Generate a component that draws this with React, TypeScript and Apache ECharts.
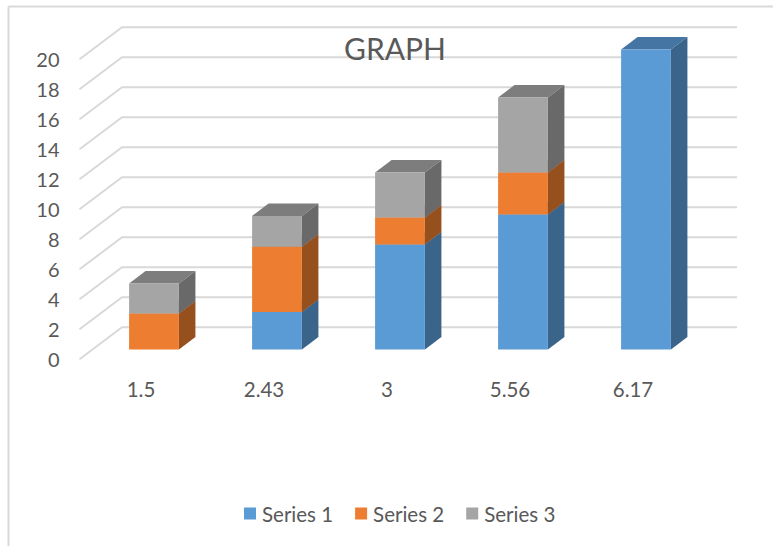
import React, { useEffect, useRef } from "react";
import * as echarts from "echarts";

const categories = ["1.5", "2.43", "3", "5.56", "6.17"];
const series1 = [0, 2.5, 7, 9, 20];
const series2 = [2.4, 4.35, 1.8, 2.8, 0];
const series3 = [2, 2.05, 3, 5, 0];
const yTicks = [0, 2, 4, 6, 8, 10, 12, 14, 16, 18, 20];
const seriesNames = ["Series 1", "Series 2", "Series 3"];
const palette = [
  { front: "#5B9BD5", side: "#3A6489", top: "#4576A3" },
  { front: "#ED7D31", side: "#96501E", top: "#B65F25" },
  { front: "#A5A5A5", side: "#696969", top: "#7D7D7D" },
];

const FONT = "Lato, Carlito, 'Open Sans', sans-serif";
const TEXT = "#595959";
const GRID = "#D9D9D9";
// depth of the floor, and of the bar block within it
const WALL_DX = 42.5;
const WALL_DY = 32;
const BAR_DX = 13;
const BAR_DY = 9.8;
const SIDE_DX = 16.5;
const SIDE_DY = 12.6;
const BAR_RATIO = 0.405;

const gridItem = (params: any, api: any) => {
  const p = api.coord([0, api.value(1)]);
  const cs = params.coordSys;
  const y = p[1];
  return {
    type: "polyline",
    silent: true,
    shape: {
      points: [
        [cs.x, y],
        [cs.x + WALL_DX, y - WALL_DY],
        [cs.x + cs.width + WALL_DX, y - WALL_DY],
      ],
    },
    style: { stroke: GRID, lineWidth: 2, fill: null },
  };
};

const barItem = (colors: { front: string; side: string; top: string }) => (_params: any, api: any) => {
  if (api.value(2) <= api.value(1)) return null;
  const lo = api.coord([api.value(0), api.value(1)]);
  const hi = api.coord([api.value(0), api.value(2)]);
  const w = api.size([1, 0])[0] * BAR_RATIO;
  const x0 = lo[0] + BAR_DX - w / 2;
  const x1 = x0 + w;
  const yb = lo[1] - BAR_DY;
  const yt = hi[1] - BAR_DY;
  return {
    type: "group",
    children: [
      {
        type: "polygon",
        shape: { points: [[x0, yt], [x1, yt], [x1 + SIDE_DX, yt - SIDE_DY], [x0 + SIDE_DX, yt - SIDE_DY]] },
        style: { fill: colors.top },
      },
      {
        type: "polygon",
        shape: { points: [[x1, yb], [x1 + SIDE_DX, yb - SIDE_DY], [x1 + SIDE_DX, yt - SIDE_DY], [x1, yt]] },
        style: { fill: colors.side },
      },
      {
        type: "polygon",
        shape: { points: [[x0, yb], [x1, yb], [x1, yt], [x0, yt]] },
        style: { fill: colors.front },
      },
    ],
  };
};

export default function App() {
  const ref = useRef<HTMLDivElement>(null);
  useEffect(() => {
    const chart = echarts.init(ref.current!, undefined, { renderer: "svg" });
    const stacks = [series1, series2, series3];
    const running = categories.map(() => 0);
    const barSeries = stacks.map((values, s) => ({
      name: seriesNames[s],
      type: "custom",
      z: 3 + s,
      itemStyle: { color: palette[s].front },
      encode: { x: 0, y: [1, 2] },
      renderItem: barItem(palette[s]),
      data: values.map((v, i) => {
        const base = running[i];
        running[i] = base + v;
        return [i, base, base + v];
      }),
    }));
    chart.setOption({
      animation: false,
      backgroundColor: "#FFFFFF",
      title: {
        text: "GRAPH",
        left: 390,
        top: 28,
        textAlign: "center",
        textStyle: { color: TEXT, fontFamily: FONT, fontSize: 30, fontWeight: "normal" },
        z: 20,
      },
      legend: {
        data: seriesNames,
        left: 239,
        top: 498,
        itemWidth: 12,
        itemHeight: 12,
        itemGap: 22,
        icon: "rect",
        textStyle: { color: TEXT, fontFamily: FONT, fontSize: 20.5, padding: [0, 0, 0, 1] },
      },
      grid: { left: 79.5, top: 59.3, width: 615, height: 300 },
      xAxis: {
        type: "category",
        data: categories,
        axisLine: { show: false },
        axisTick: { show: false },
        axisLabel: { color: TEXT, fontFamily: FONT, fontSize: 20.5, margin: 19 },
      },
      yAxis: {
        type: "value",
        min: 0,
        max: 20,
        interval: 2,
        splitLine: { show: false },
        axisLine: { show: false },
        axisTick: { show: false },
        axisLabel: { color: TEXT, fontFamily: FONT, fontSize: 20, margin: 20 },
      },
      graphic: [
        { type: "line", silent: true, shape: { x1: 8.5, y1: 6.5, x2: 773, y2: 6.5 }, style: { stroke: GRID, lineWidth: 2 } },
        { type: "line", silent: true, shape: { x1: 8.5, y1: 6.5, x2: 8.5, y2: 546 }, style: { stroke: GRID, lineWidth: 2 } },
      ],
      series: [
        {
          type: "custom",
          name: "grid",
          z: 1,
          encode: { x: 0, y: 1 },
          renderItem: gridItem,
          data: yTicks.map((t) => [0, t]),
        },
        ...barSeries,
      ],
    });
    return () => chart.dispose();
  }, []);
  return <div ref={ref} style={{ position: "absolute", left: 0, top: 0, width: 773, height: 546 }} />;
}
